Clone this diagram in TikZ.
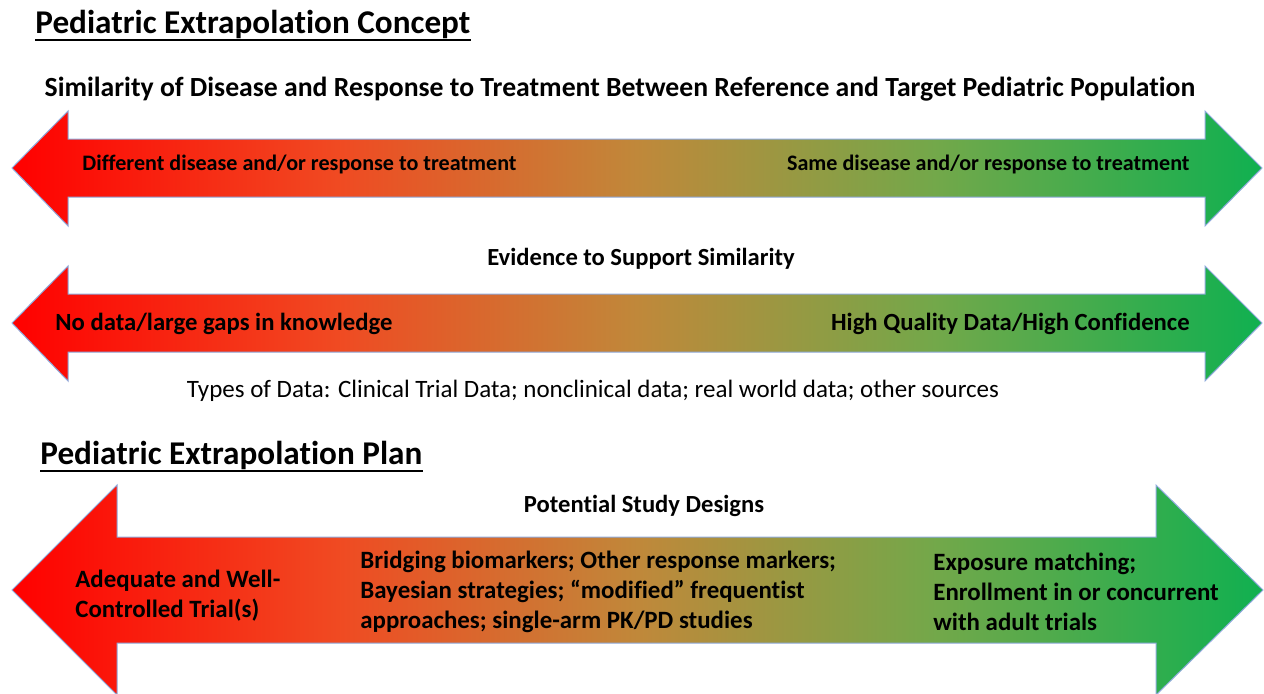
\documentclass[tikz,border=0pt]{standalone}
\usepackage{fontspec}
\setmainfont[Ligatures=NoCommon]{Carlito}
\definecolor{cA}{HTML}{FF0000}
\definecolor{cB}{HTML}{F04A22}
\definecolor{cC}{HTML}{C0883A}
\definecolor{cD}{HTML}{72A84A}
\definecolor{cE}{HTML}{10B050}
\definecolor{edge}{HTML}{8FAADC}
\pgfdeclarehorizontalshading{redgreen}{100bp}{color(0bp)=(cA); color(25bp)=(cA); color(38bp)=(cB); color(50bp)=(cC); color(62bp)=(cD); color(75bp)=(cE); color(100bp)=(cE)}
\tikzset{
  dblarrow/.style={shading=redgreen, draw=edge, line width=0.5pt},
  heading/.style={font=\bfseries\fontsize{16.6}{18}\selectfont, anchor=base west, inner sep=0pt},
  subhead/.style={font=\bfseries\fontsize{13.85}{16}\selectfont, anchor=base, inner sep=0pt},
  armlabel/.style={font=\bfseries\fontsize{11.05}{13}\selectfont, inner sep=0pt},
  armlabelB/.style={font=\bfseries\fontsize{12.35}{14}\selectfont, inner sep=0pt},
  midlabel/.style={font=\bfseries\fontsize{12.3}{14}\selectfont, anchor=base, inner sep=0pt},
  plain/.style={font=\fontsize{12.5}{14}\selectfont, anchor=base, inner sep=0pt},
  block/.style={font=\bfseries\fontsize{12.45}{15}\selectfont, align=left, inner sep=0pt},
  uline/.style={line width=1.1pt}
}
\begin{document}
\begin{tikzpicture}[x=0.5pt,y=-0.5pt]
\useasboundingbox (0,0) rectangle (1264,693);
% arrows
\path[dblarrow] (12,168) -- (68,111) -- (68,139) -- (1205,139) -- (1205,111) -- (1262,168) -- (1205,226) -- (1205,197) -- (68,197) -- (68,226) -- cycle;
\path[dblarrow] (12,323) -- (68,266) -- (68,294) -- (1205,294) -- (1205,266) -- (1262,323) -- (1205,381) -- (1205,352) -- (68,352) -- (68,381) -- cycle;
\path[dblarrow] (12,590) -- (117,485) -- (117,537) -- (1156,537) -- (1156,485) -- (1263,590) -- (1156,695) -- (1156,643) -- (117,643) -- (117,695) -- cycle;
% headings
\node[heading] (t1) at (35,33) {Pediatric Extrapolation Concept};
\draw[uline] ([yshift=-3.5pt]t1.base west) -- ([yshift=-3.5pt]t1.base east);
\node[subhead] (s1) at (620,96) {Similarity of Disease and Response to Treatment Between Reference and Target Pediatric Population};
\node[armlabel, anchor=west] (l1) at (82,164) {Different disease and/or response to treatment};
\node[armlabel, anchor=east] (r1) at (1190,164) {Same disease and/or response to treatment};
\node[midlabel] (e1) at (641,265) {Evidence to Support Similarity};
\node[armlabelB, anchor=west] (l2) at (55,324) {No data/large gaps in knowledge};
\node[armlabelB, anchor=east] (r2) at (1190,324) {High Quality Data/High Confidence};
\node[plain] (d1) at (593,397) {Types of Data: Clinical Trial Data; nonclinical data; real world data; other sources};
\node[heading] (t2) at (40,464) {Pediatric Extrapolation Plan};
\draw[uline] ([yshift=-3.5pt]t2.base west) -- ([yshift=-3.5pt]t2.base east);
\node[midlabel] (p1) at (644,512) {Potential Study Designs};
\node[block, anchor=west] (b1) at (75,596) {Adequate and Well-\\Controlled Trial(s)};
\node[block, anchor=west] (b2) at (360,592) {Bridging biomarkers; Other response markers;\\Bayesian strategies; “modified” frequentist\\approaches; single-arm PK/PD studies};
\node[block, anchor=west] (b3) at (933,592) {Exposure matching;\\Enrollment in or concurrent\\with adult trials};
\end{tikzpicture}
\end{document}
